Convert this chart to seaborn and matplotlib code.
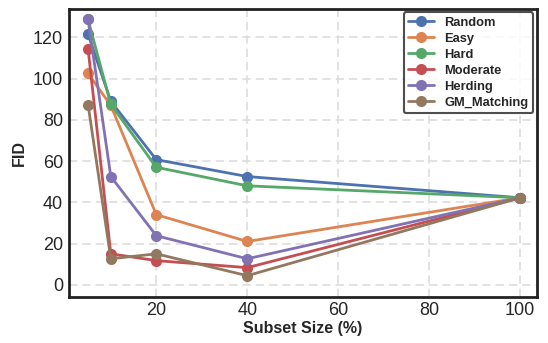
import matplotlib
matplotlib.use("Agg")
import matplotlib.pyplot as plt
import seaborn as sns
import pandas as pd

sizes = [5, 10, 20, 40, 100]
random_fid = [121.5, 89, 60.7, 52.5, 42.2]
easy_fid = [102.5, 87, 34, 21, 42.2]
hard_fid = [128.7, 87.5, 57, 48, 42.2]
moderate_fid = [114.5, 15, 11.7, 8.3, 42.2]
herding_fid = [128.7, 52.5, 23.8, 12.6, 42.2]
gm_fid = [87.4, 12.6, 15, 4.4, 42.2]

methods = ["Random", "Easy", "Hard", "Moderate", "Herding", "GM_Matching"]
values = [random_fid, easy_fid, hard_fid, moderate_fid, herding_fid, gm_fid]

rows = []
for m, v in zip(methods, values):
    for s, f in zip(sizes, v):
        rows.append({"Subset Size (%)": s, "FID": f, "Method": m})
df = pd.DataFrame(rows)

sns.set_theme(style="white")
plt.rcParams['font.family'] = ['Liberation Sans', 'DejaVu Sans']
fig, ax = plt.subplots(figsize=(5.48, 3.43), dpi=100)
palette = sns.color_palette("deep", 6)
for i, m in enumerate(methods):
    sub = df[df["Method"] == m]
    sns.lineplot(data=sub, x="Subset Size (%)", y="FID", ax=ax, color=palette[i],
                 marker="o", markersize=8, linewidth=2, markeredgewidth=0, label=m)

ax.set_xlim(0.7, 103.7)
ax.set_ylim(-5.8, 134)
ax.set_xticks([20, 40, 60, 80, 100])
ax.set_yticks([0, 20, 40, 60, 80, 100, 120])
ax.tick_params(labelsize=13, length=0, pad=4)
ax.grid(True, linestyle=(0, (5, 3)), color="#dddddd", linewidth=1.2)
for sp in ax.spines.values():
    sp.set_color("#222222")
    sp.set_linewidth(2)
ax.set_xlabel("Subset Size (%)", fontsize=11.5, fontweight="bold", labelpad=1)
ax.set_ylabel("FID", fontsize=11.5, fontweight="bold", labelpad=4)
leg = ax.legend(loc="upper right", prop={"weight": "bold", "size": 9.3},
                frameon=True, edgecolor="#222222", fancybox=True, borderpad=0.35,
                labelspacing=0.3, handlelength=2.0, borderaxespad=0.3)
leg.get_frame().set_linewidth(1.5)
fig.subplots_adjust(left=0.125, right=0.98, top=0.975, bottom=0.135)
fig.savefig("out.png", dpi=100)
